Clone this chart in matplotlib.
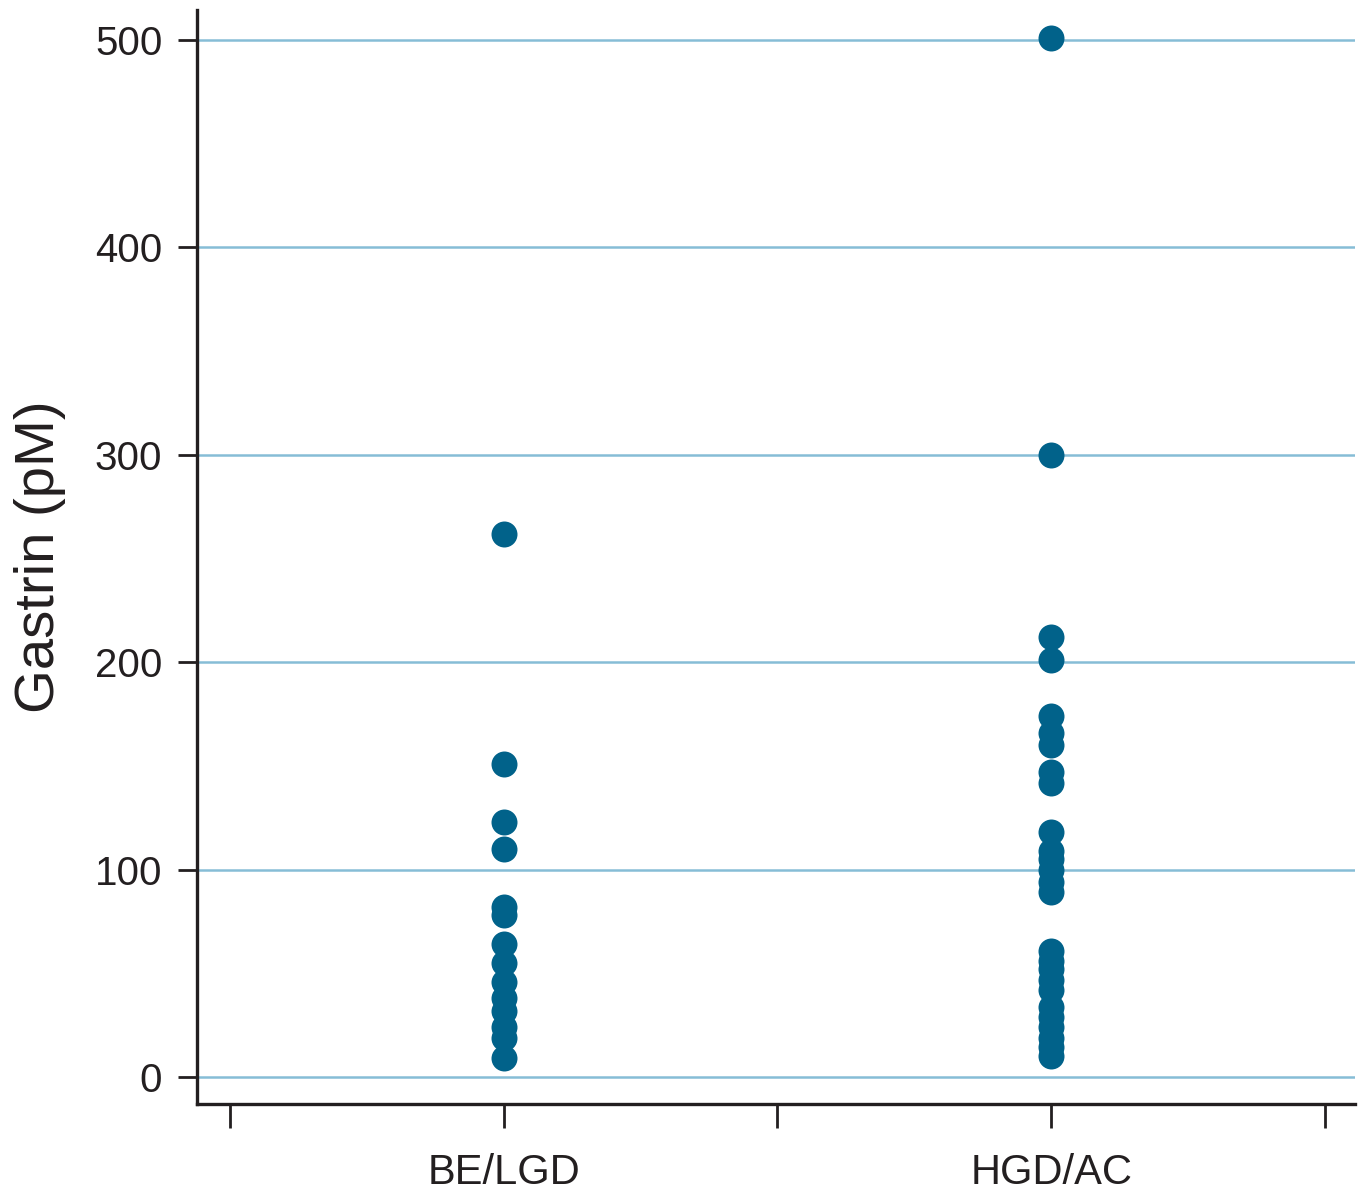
import matplotlib
matplotlib.use("Agg")
import matplotlib.pyplot as plt

categories = ["BE/LGD", "HGD/AC"]
be_lgd = [262, 151, 123, 110, 82, 78, 64, 55, 46, 38, 32, 24, 19, 9]
hgd_ac = [501, 300, 212, 201, 174, 166, 160, 147, 142, 118, 109, 105, 100, 94, 89,
          61, 56, 52, 47, 42, 34, 29, 24, 19, 14.5, 10]
yticks = [0, 100, 200, 300, 400, 500]

plt.rcParams['font.family'] = ['Liberation Sans', 'DejaVu Sans']

fig = plt.figure(figsize=(13.63, 11.94), dpi=100)
ax = fig.add_axes([197/1363, 1 - 1104/1194, (1355-197)/1363, (1104-10)/1194])

dot_color = "#01628A"
grid_color = "#86BDD6"

for yv in yticks:
    ax.axhline(yv, color=grid_color, lw=1.8, zorder=1)

positions = [1, 2]
for pos, vals in zip(positions, [be_lgd, hgd_ac]):
    ax.scatter([pos] * len(vals), vals, s=350, color=dot_color, zorder=3, linewidths=0)

ax.set_xlim(0.44, 2.555)
ax.set_ylim(-13, 514.5)
ax.set_yticks(yticks)
ax.set_yticklabels([str(v) for v in yticks], fontsize=29, color="#231F20")
ax.set_xticks([0.5, 1, 1.5, 2, 2.5])
ax.set_xticklabels(["", categories[0], "", categories[1], ""], fontsize=30, color="#231F20")
ax.tick_params(axis='x', length=17, width=2, direction='out', pad=18, color="#231F20")
ax.tick_params(axis='y', length=14, width=2, direction='out', pad=11, color="#231F20")
ax.spines['top'].set_visible(False)
ax.spines['right'].set_visible(False)
for s in ['left', 'bottom']:
    ax.spines[s].set_linewidth(2.4)
    ax.spines[s].set_color("#231F20")
ax.set_ylabel("Gastrin (pM)", fontsize=40.5, color="#231F20", labelpad=21)

fig.savefig("out.png", dpi=100)
